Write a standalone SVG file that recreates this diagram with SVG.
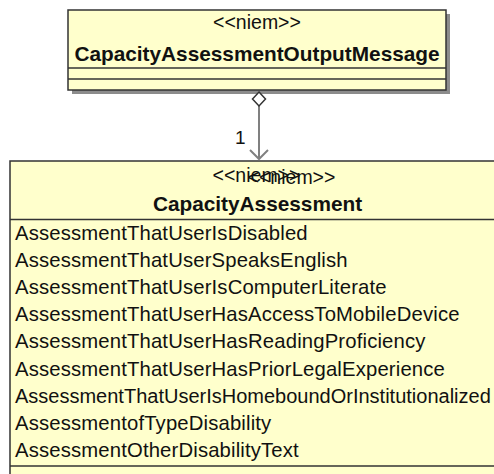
<svg xmlns="http://www.w3.org/2000/svg" width="494" height="474" viewBox="0 0 494 474">
<style>
.box{fill:#FFFFCC;stroke:#333;stroke-width:1.5}
.shadow{fill:#8c8c8c}
.div{stroke:#333;stroke-width:1.5}
.st{font-family:"Liberation Sans",Arial,sans-serif;font-size:19.5px;fill:#111;text-anchor:middle}
.ti{font-family:"Liberation Sans",Arial,sans-serif;font-size:20.8px;font-weight:bold;fill:#111;text-anchor:middle}
.at{font-family:"Liberation Sans",Arial,sans-serif;font-size:20.3px;letter-spacing:0.15px;fill:#111}
.conn{stroke:#808080;stroke-width:2;fill:none}
</style>
<rect width="494" height="474" fill="#ffffff"/>
<g id="CapacityAssessmentOutputMessage">
<rect class="shadow" x="72" y="14" width="378" height="80"/>
<rect class="box" x="68" y="10" width="378" height="80"/>
<line class="div" x1="68" y1="68" x2="446" y2="68"/>
<line class="div" x1="68" y1="79" x2="446" y2="79"/>
<text class="st" x="257" y="29">&lt;&lt;niem&gt;&gt;</text>
<text class="ti" x="257" y="61">CapacityAssessmentOutputMessage</text>
</g>
<g id="CapacityAssessment">
<rect class="box" x="10" y="161" width="530" height="330"/>
<line class="div" x1="10" y1="219.5" x2="494" y2="219.5"/>
<line class="div" x1="10" y1="466" x2="494" y2="466"/>
<text class="st" x="256.5" y="181.7">&lt;&lt;niem&gt;&gt;</text>
<text class="st" x="291.5" y="184.3">&lt;&lt;niem&gt;&gt;</text>
<text class="ti" x="257.5" y="211">CapacityAssessment</text>
<text class="at" x="15" y="240">AssessmentThatUserIsDisabled</text>
<text class="at" x="15" y="267.1">AssessmentThatUserSpeaksEnglish</text>
<text class="at" x="15" y="294.2">AssessmentThatUserIsComputerLiterate</text>
<text class="at" x="15" y="321.3">AssessmentThatUserHasAccessToMobileDevice</text>
<text class="at" x="15" y="348.4">AssessmentThatUserHasReadingProficiency</text>
<text class="at" x="15" y="375.5">AssessmentThatUserHasPriorLegalExperience</text>
<text class="at" x="15" y="402.6" style="letter-spacing:0;font-size:20px">AssessmentThatUserIsHomeboundOrInstitutionalized</text>
<text class="at" x="15" y="429.7">AssessmentofTypeDisability</text>
<text class="at" x="15" y="456.8">AssessmentOtherDisabilityText</text>
</g>
<g id="connectors">
<line class="conn" x1="259" y1="106" x2="259" y2="159"/>
<polyline class="conn" points="250,150 259,159 268,150"/>
<polygon points="259,92 265.5,99 259,106 252.5,99" fill="#ffffff" stroke="#333" stroke-width="1.5"/>
<text x="235" y="144" style="font-family:'Liberation Sans',Arial,sans-serif;font-size:19px;fill:#111">1</text>
</g>
</svg>
